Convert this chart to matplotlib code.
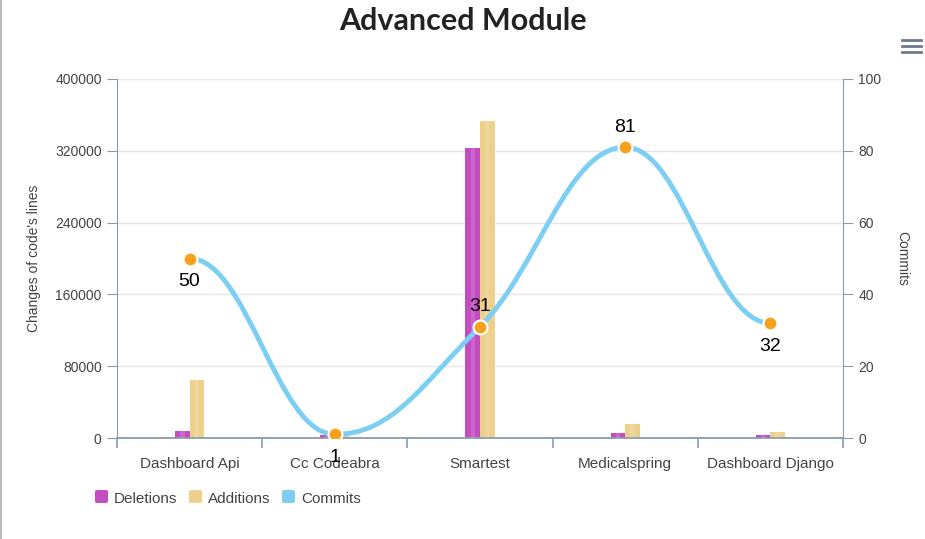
import numpy as np
import matplotlib
matplotlib.use("Agg")
import matplotlib.pyplot as plt
from matplotlib.path import Path
from matplotlib.patches import PathPatch, FancyBboxPatch

# data
categories = ["Dashboard Api", "Cc Codeabra", "Smartest", "Medicalspring", "Dashboard Django"]
deletions = [7800, 3700, 323000, 5600, 3700]
additions = [64500, 2500, 353000, 16000, 7000]
commits = [50, 1, 31, 81, 32]
left_ticks = [0, 80000, 160000, 240000, 320000, 400000]
right_ticks = [0, 20, 40, 60, 80, 100]

c_del = "#c44cc1"
c_add = "#ecd08c"
c_com = "#7ccff3"
c_mark = "#f7a11e"
c_axis = "#8a9bab"
c_text = "#444444"

plt.rcParams["font.family"] = ["Liberation Sans", "DejaVu Sans"]


def spline_path(xs, ys, smoothing=1.5):
    # spline with control points like highcharts, flat at the ends
    n = len(xs)
    denom = smoothing + 1
    lefts, rights = [None] * n, [None] * n
    for i in range(n):
        px, py = xs[i], ys[i]
        if i == 0:
            rights[i] = ((smoothing * px + xs[1]) / denom, py)
            continue
        if i == n - 1:
            lefts[i] = ((smoothing * px + xs[i - 1]) / denom, py)
            continue
        lx, ly = xs[i - 1], ys[i - 1]
        nx, ny = xs[i + 1], ys[i + 1]
        lcx = (smoothing * px + lx) / denom
        lcy = (smoothing * py + ly) / denom
        rcx = (smoothing * px + nx) / denom
        rcy = (smoothing * py + ny) / denom
        corr = ((rcy - lcy) * (rcx - px)) / (rcx - lcx) + py - rcy
        lcy += corr
        rcy += corr
        if lcy > ly and lcy > py:
            lcy = max(ly, py)
            rcy = 2 * py - lcy
        elif lcy < ly and lcy < py:
            lcy = min(ly, py)
            rcy = 2 * py - lcy
        if rcy > ny and rcy > py:
            rcy = max(ny, py)
            lcy = 2 * py - rcy
        elif rcy < ny and rcy < py:
            rcy = min(ny, py)
            lcy = 2 * py - rcy
        lefts[i] = (lcx, lcy)
        rights[i] = (rcx, rcy)
    verts = [(xs[0], ys[0])]
    codes = [Path.MOVETO]
    for i in range(1, n):
        verts += [rights[i - 1], lefts[i], (xs[i], ys[i])]
        codes += [Path.CURVE4] * 3
    return Path(verts, codes)


fig = plt.figure(figsize=(9.25, 5.39), dpi=100)
W, H = 925, 539
ax = fig.add_axes([117 / W, (H - 438) / H, (843 - 117) / W, (438 - 79) / H])
ax2 = ax.twinx()

x = np.arange(len(categories))
bw = 0.1
ax.bar(x - bw / 2, deletions, bw, color=c_del, zorder=2)
ax.bar(x + bw / 2, additions, bw, color=c_add, zorder=2)
# lighter stripe inside the bars
ax.bar(x - bw / 2, deletions, bw * 0.3, color="white", alpha=0.15, zorder=3)
ax.bar(x + bw / 2, additions, bw * 0.3, color="white", alpha=0.15, zorder=3)

ax.set_xlim(-0.5, len(categories) - 0.5)
ax.set_ylim(0, 400000)
ax2.set_ylim(0, 100)
ax.set_yticks(left_ticks)
ax.set_yticklabels([str(t) for t in left_ticks])
ax2.set_yticks(right_ticks)
ax2.set_yticklabels([str(t) for t in right_ticks])

ax.grid(axis="y", color="#e6e6e6", linewidth=1, zorder=0)
ax.set_axisbelow(True)

# commits spline
ax2.add_patch(PathPatch(spline_path(list(x.astype(float)), commits), facecolor="none",
                        edgecolor=c_com, linewidth=3.5, zorder=4, capstyle="round"))
ax2.plot(x, commits, "o", color=c_mark, markersize=10, markeredgecolor="white",
         markeredgewidth=1.5, zorder=5, linestyle="none")
label_pos = ["below", "below", "above", "above", "below"]
for xi, v, pos in zip(x, commits, label_pos):
    off = -16.5 if pos == "below" else 14.5
    ax2.annotate(str(v), (xi, v), xytext=(0, off), textcoords="offset points",
                 ha="center", va="center", fontsize=14, color="black", zorder=6)

for a in (ax, ax2):
    for s in a.spines.values():
        s.set_visible(False)
ax.spines["left"].set_visible(True)
ax.spines["left"].set_color(c_axis)
ax2.spines["right"].set_visible(True)
ax2.spines["right"].set_color(c_axis)
ax.spines["bottom"].set_visible(True)
ax.spines["bottom"].set_color(c_axis)
ax.spines["bottom"].set_linewidth(1.3)

ax.set_xticks(x)
ax.set_xticklabels(categories, fontsize=11, color=c_text)
ax.tick_params(axis="x", length=0, pad=14)
ax.set_xticks(np.arange(-0.5, len(categories)), minor=True)
ax.tick_params(axis="x", which="minor", length=7, color=c_axis, width=1.2)

ax.tick_params(axis="y", length=7, color=c_axis, labelsize=10, labelcolor=c_text, pad=4)
ax2.tick_params(axis="y", length=7, color=c_axis, labelsize=10, labelcolor=c_text, pad=4)

ax.set_ylabel("Changes of code's lines", fontsize=10, color=c_text, labelpad=10)
ax2.set_ylabel("Commits", fontsize=10, color=c_text, rotation=270, labelpad=20)

fig.text(0.5, 1 - 21 / H, "Advanced Module", ha="center", va="center",
         fontsize=22, fontweight="bold", color="#222222", family=["Lato", "DejaVu Sans"])

# legend
leg_items = [("Deletions", c_del, 95), ("Additions", c_add, 189), ("Commits", c_com, 282)]
for name, col, px in leg_items:
    fig.patches.append(FancyBboxPatch((px / W, 1 - 503 / H), 13 / W, 13 / H,
                                      boxstyle="round,pad=0,rounding_size=0.003",
                                      transform=fig.transFigure, facecolor=col,
                                      edgecolor="none"))
    fig.text((px + 19) / W, 1 - 499 / H, name, ha="left", va="center",
             fontsize=11, color=c_text)

# menu icon
for yy in (40, 46, 52):
    fig.add_artist(plt.Line2D([902 / W, 921 / W], [1 - yy / H, 1 - yy / H],
                              color="#6b7b8c", linewidth=2, transform=fig.transFigure))
# frame edge on the left
fig.add_artist(plt.Line2D([0.5 / W, 0.5 / W], [0, 1], color="#bbbbbb",
                          linewidth=1.5, transform=fig.transFigure))

fig.savefig("out.png", dpi=100)
